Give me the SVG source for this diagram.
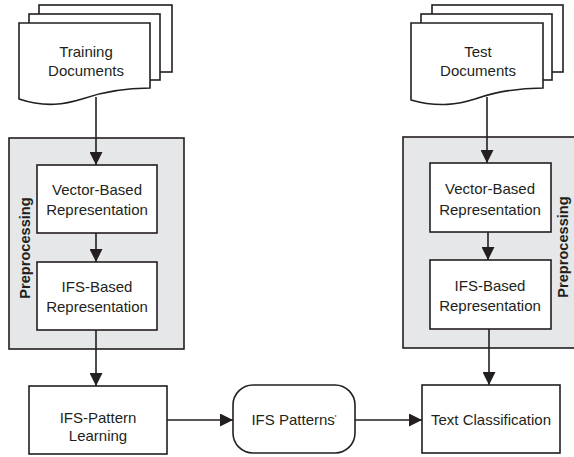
<svg xmlns="http://www.w3.org/2000/svg" width="574" height="457" viewBox="0 0 574 457">
  <style>
    .ln { stroke: #231f20; stroke-width: 1.6; fill: none; }
    .box { stroke: #231f20; stroke-width: 1.6; fill: #ffffff; }
    .grp { stroke: #231f20; stroke-width: 1.6; fill: #e6e7e8; }
    .t { font-family: "Liberation Sans", Arial, sans-serif; font-size: 15px; fill: #231f20; text-anchor: middle; }
    .lbl { font-family: "Liberation Sans", Arial, sans-serif; font-size: 14.6px; font-weight: bold; fill: #231f20; text-anchor: middle; }
  </style>
  <defs>
    <marker id="arr" viewBox="0 0 10 10" refX="10" refY="5" markerWidth="13" markerHeight="13" markerUnits="userSpaceOnUse" orient="auto">
      <path d="M0,0 L10,5 L0,10 Z" fill="#231f20"/>
    </marker>
  </defs>
  <rect width="574" height="457" fill="#ffffff"/>

  <!-- preprocessing groups -->
  <g id="prep-train">
    <rect class="grp" x="9" y="138" width="175" height="211"/>
    <text class="lbl" transform="translate(30,248) rotate(-90)">Preprocessing</text>
  </g>
  <g id="prep-test">
    <rect class="grp" x="403" y="137" width="180" height="211"/>
    <text class="lbl" transform="translate(568,247) rotate(-90)">Preprocessing</text>
  </g>

  <!-- connectors -->
  <g id="connectors">
    <line class="ln" x1="96" y1="97" x2="96" y2="165" marker-end="url(#arr)"/>
    <line class="ln" x1="96" y1="233" x2="96" y2="262" marker-end="url(#arr)"/>
    <line class="ln" x1="96" y1="330" x2="96" y2="386" marker-end="url(#arr)"/>
    <line class="ln" x1="487" y1="97" x2="487" y2="163" marker-end="url(#arr)"/>
    <line class="ln" x1="488" y1="232" x2="488" y2="260" marker-end="url(#arr)"/>
    <line class="ln" x1="489" y1="329" x2="489" y2="385" marker-end="url(#arr)"/>
    <line class="ln" x1="167" y1="420" x2="233" y2="420" marker-end="url(#arr)"/>
    <line class="ln" x1="355" y1="420" x2="422" y2="420" marker-end="url(#arr)"/>
  </g>

  <!-- document stacks -->
  <g id="training-docs">
    <rect class="box" x="39" y="5" width="133" height="67"/>
    <rect class="box" x="29" y="14" width="131" height="66"/>
    <path class="box" d="M19,23 H150 V88 C122,88 102,92 82,99 C66,104 46,108 19,99 Z"/>
    <text class="t" x="86" y="57">Training</text>
    <text class="t" x="86" y="76">Documents</text>
  </g>
  <g id="test-docs">
    <rect class="box" x="432" y="5" width="131" height="67"/>
    <rect class="box" x="421" y="14" width="131" height="66"/>
    <path class="box" d="M411,23 H543 V88 C515,88 495,92 475,99 C459,104 439,108 411,100 Z"/>
    <text class="t" x="478" y="57">Test</text>
    <text class="t" x="478" y="76">Documents</text>
  </g>

  <!-- training branch -->
  <g id="train-vector">
    <rect class="box" x="37" y="165" width="120" height="68"/>
    <text class="t" x="97" y="195">Vector-Based</text>
    <text class="t" x="97" y="215">Representation</text>
  </g>
  <g id="train-ifs">
    <rect class="box" x="37" y="262" width="120" height="68"/>
    <text class="t" x="97" y="292">IFS-Based</text>
    <text class="t" x="97" y="312">Representation</text>
  </g>
  <g id="pattern-learning">
    <rect class="box" x="29" y="386" width="138" height="68"/>
    <text class="t" x="98" y="423">IFS-Pattern</text>
    <text class="t" x="98" y="441">Learning</text>
  </g>

  <!-- pattern store -->
  <g id="ifs-patterns">
    <rect class="box" x="233" y="385" width="122" height="68" rx="20" ry="20"/>
    <text class="t" x="294" y="425">IFS Patterns<tspan font-size="9" dy="-4">'</tspan></text>
  </g>

  <!-- test branch -->
  <g id="test-vector">
    <rect class="box" x="430" y="163" width="121" height="69"/>
    <text class="t" x="490" y="194">Vector-Based</text>
    <text class="t" x="490" y="215">Representation</text>
  </g>
  <g id="test-ifs">
    <rect class="box" x="430" y="260" width="121" height="69"/>
    <text class="t" x="490" y="291">IFS-Based</text>
    <text class="t" x="490" y="311">Representation</text>
  </g>
  <g id="text-classification">
    <rect class="box" x="422" y="385" width="138" height="68"/>
    <text class="t" x="491" y="425">Text Classification</text>
  </g>
</svg>
